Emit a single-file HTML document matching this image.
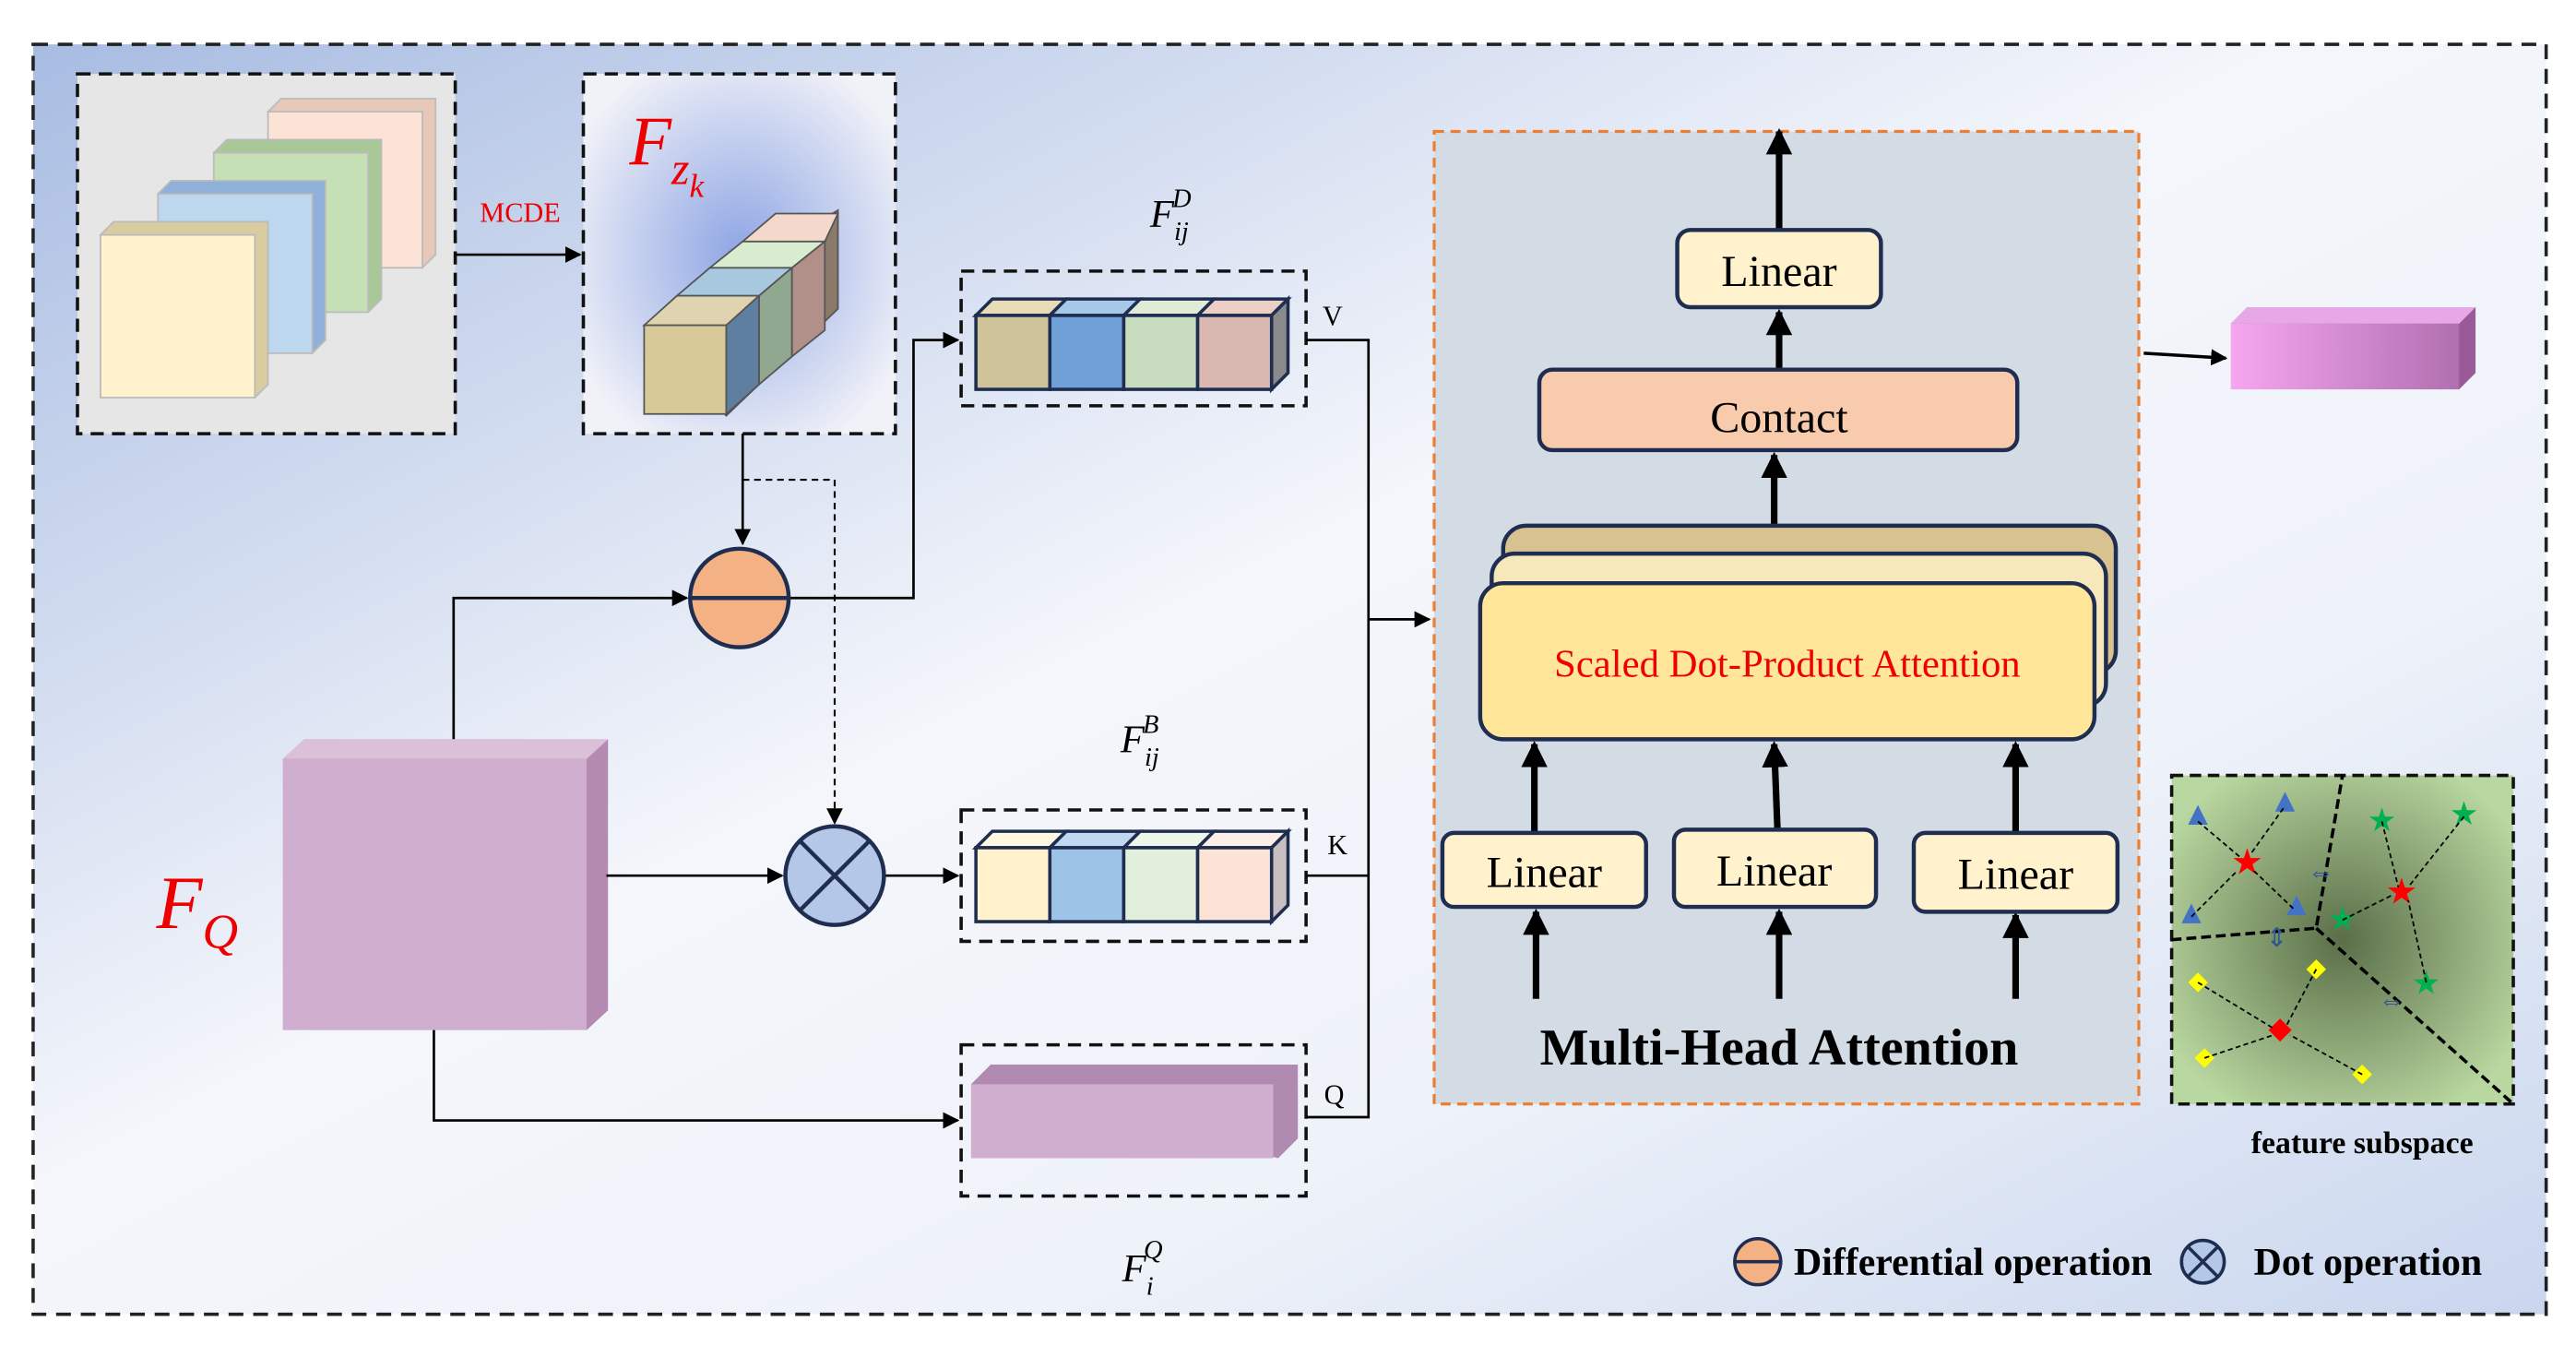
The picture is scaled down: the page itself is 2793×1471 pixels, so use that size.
<!DOCTYPE html>
<html><head><meta charset="utf-8"><style>
html,body{margin:0;padding:0;background:#fff;}
svg{display:block;}
text{font-family:"Liberation Serif",serif;}
</style></head><body>
<svg width="2793" height="1471" viewBox="0 0 1568 826" xmlns="http://www.w3.org/2000/svg">
<defs>
<linearGradient id="bg" x1="0" y1="0" x2="1" y2="1">
<stop offset="0" stop-color="#a8bce2"/><stop offset="0.45" stop-color="#f4f6fb"/><stop offset="0.7" stop-color="#eef2f9"/><stop offset="1" stop-color="#c9d6ee"/>
</linearGradient>
<radialGradient id="bz" cx="0.5" cy="0.5" r="0.6"><stop offset="0" stop-color="#8fa6e4"/><stop offset="1" stop-color="#f1f2f8"/></radialGradient>
<radialGradient id="fs" cx="0.5" cy="0.5" r="0.6"><stop offset="0" stop-color="#5a6e48"/><stop offset="1" stop-color="#b9d7a0"/></radialGradient>
<linearGradient id="pk" x1="0" x2="1"><stop offset="0" stop-color="#f6a6f0"/><stop offset="1" stop-color="#b070b0"/></linearGradient>
<marker id="ar" markerWidth="10" markerHeight="10" refX="9" refY="5" orient="auto" markerUnits="userSpaceOnUse"><path d="M0,0 L10,5 L0,10 Z" fill="#000"/></marker>
<marker id="ab" markerWidth="16" markerHeight="16" refX="14" refY="8" orient="auto" markerUnits="userSpaceOnUse"><path d="M0,0 L16,8 L0,16 Z" fill="#000"/></marker>
</defs>
<rect x="20" y="27" width="1530" height="773" fill="url(#bg)" stroke="#222" stroke-width="2" stroke-dasharray="9,6"/>
<!-- box1 -->
<rect x="47" y="45" width="230" height="219" fill="#e6e6e6" stroke="#111" stroke-width="2" stroke-dasharray="8,5"/>
<g stroke="#bbb" stroke-width="1">
<path d="M163,68 l8,-8 h94 v95 l-8,8z" fill="#e8c8b8"/><rect x="163" y="68" width="94" height="95" fill="#fbe3d6"/>
<path d="M130,93 l8,-8 h94 v97 l-8,8z" fill="#a8c898"/><rect x="130" y="93" width="94" height="97" fill="#c5e0b4"/>
<path d="M96,118 l8,-8 h94 v97 l-8,8z" fill="#8fb0d8"/><rect x="96" y="118" width="94" height="97" fill="#bdd7ee"/>
<path d="M61,143 l8,-8 h94 v99 l-8,8z" fill="#d8cca0"/><rect x="61" y="143" width="94" height="99" fill="#fff2cc"/>
</g>
<line x1="277" y1="155" x2="353" y2="155" stroke="#000" stroke-width="1.5" marker-end="url(#ar)"/>
<text x="292" y="135" font-size="17" fill="#e00">MCDE</text>
<!-- box2 -->
<rect x="355" y="45" width="190" height="219" fill="url(#bz)" stroke="#111" stroke-width="2" stroke-dasharray="8,5"/>
<text x="383" y="100" font-size="42" fill="#e00" font-style="italic">F<tspan font-size="28" dy="12">z</tspan><tspan font-size="20" dy="8">k</tspan></text>
<g stroke="#555" stroke-width="1">
<path d="M392,198 l118,-70 v60 l-68,65z" fill="#8a7a6a"/>
<path d="M392,198 l20,-18 h50 l-20,18z" fill="#e0d4b0"/>
<rect x="392" y="198" width="50" height="54" fill="#d8ca98"/>
<path d="M442,198 l20,-18 v54 l-20,18z" fill="#5f7fa0"/>
<path d="M412,180 l20,-17 h50 l-20,17z" fill="#a8c8e0"/>
<path d="M462,180 l20,-17 v54 l-20,17z" fill="#90a890"/>
<path d="M432,163 l20,-16 h50 l-20,16z" fill="#d8ecd0"/>
<path d="M482,163 l20,-16 v54 l-20,16z" fill="#b09088"/>
<path d="M452,147 l20,-17 h38 l-8,17z" fill="#f4d8cc"/>
</g>
<!-- connectors -->
<line x1="452" y1="264" x2="452" y2="331" stroke="#000" stroke-width="1.5" marker-end="url(#ar)"/>
<polyline points="452,292 508,292 508,501" fill="none" stroke="#000" stroke-width="1.2" stroke-dasharray="4,3" marker-end="url(#ar)"/>
<polyline points="276,450 276,364 418,364" fill="none" stroke="#000" stroke-width="1.5" marker-end="url(#ar)"/>
<polyline points="480,364 556,364 556,207 583,207" fill="none" stroke="#000" stroke-width="1.5" marker-end="url(#ar)"/>
<circle cx="450" cy="364" r="30" fill="#f4b183" stroke="#1f2d50" stroke-width="2.5"/>
<line x1="420" y1="364" x2="480" y2="364" stroke="#1f2d50" stroke-width="2.5"/>
<!-- FQ cube -->
<path d="M172,462 l13,-12 h185 v165 l-13,12z" fill="#b48ab0"/>
<path d="M172,462 l13,-12 h185 l-13,12z" fill="#dcc0d8"/>
<rect x="172" y="462" width="185" height="165" fill="#d0aed0"/>
<text x="95" y="565" font-size="46" fill="#e00" font-style="italic">F<tspan font-size="30" dy="12">Q</tspan></text>
<line x1="369" y1="533" x2="476" y2="533" stroke="#000" stroke-width="1.5" marker-end="url(#ar)"/>
<line x1="538" y1="533" x2="583" y2="533" stroke="#000" stroke-width="1.5" marker-end="url(#ar)"/>
<circle cx="508" cy="533" r="30" fill="#b4c7e7" stroke="#1f2d50" stroke-width="2.5"/>
<line x1="487" y1="512" x2="529" y2="554" stroke="#1f2d50" stroke-width="2.5"/><line x1="529" y1="512" x2="487" y2="554" stroke="#1f2d50" stroke-width="2.5"/>
<polyline points="264,627 264,682 583,682" fill="none" stroke="#000" stroke-width="1.5" marker-end="url(#ar)"/>
<!-- V box -->
<rect x="585" y="165" width="210" height="82" fill="none" stroke="#111" stroke-width="2" stroke-dasharray="8,5"/>
<g stroke="#1f2d50" stroke-width="2">
<path d="M594,192 l10,-10 h45 l-10,10z" fill="#e8dcb8"/><path d="M639,192 l10,-10 h45 l-10,10z" fill="#a8c8e8"/>
<path d="M684,192 l10,-10 h45 l-10,10z" fill="#e0ecd8"/><path d="M729,192 l10,-10 h45 l-10,10z" fill="#ecd0c8"/>
<path d="M774,192 l10,-10 v45 l-10,10z" fill="#8a8a8a"/>
<rect x="594" y="192" width="45" height="45" fill="#cfc39a"/><rect x="639" y="192" width="45" height="45" fill="#6fa0d8"/>
<rect x="684" y="192" width="45" height="45" fill="#c8dcc0"/><rect x="729" y="192" width="45" height="45" fill="#d8b8b0"/>
</g>
<text x="700" y="138" font-size="24" font-style="italic">F<tspan font-size="16" dy="8">ij</tspan><tspan font-size="16" dx="-10" dy="-20">D</tspan></text>
<text x="805" y="198" font-size="17">V</text>
<!-- K box -->
<rect x="585" y="493" width="210" height="80" fill="none" stroke="#111" stroke-width="2" stroke-dasharray="8,5"/>
<g stroke="#1f2d50" stroke-width="2">
<path d="M594,516 l10,-10 h45 l-10,10z" fill="#fff8e0"/><path d="M639,516 l10,-10 h45 l-10,10z" fill="#c0d8f0"/>
<path d="M684,516 l10,-10 h45 l-10,10z" fill="#eef6ea"/><path d="M729,516 l10,-10 h45 l-10,10z" fill="#fdeee6"/>
<path d="M774,516 l10,-10 v45 l-10,10z" fill="#c8c0c0"/>
<rect x="594" y="516" width="45" height="45" fill="#fff2cc"/><rect x="639" y="516" width="45" height="45" fill="#9dc3e6"/>
<rect x="684" y="516" width="45" height="45" fill="#e2efda"/><rect x="729" y="516" width="45" height="45" fill="#fbe3d6"/>
</g>
<text x="682" y="458" font-size="24" font-style="italic">F<tspan font-size="16" dy="8">ij</tspan><tspan font-size="16" dx="-10" dy="-20">B</tspan></text>
<text x="808" y="520" font-size="17">K</text>
<!-- Q box -->
<rect x="585" y="636" width="210" height="92" fill="none" stroke="#111" stroke-width="2" stroke-dasharray="8,5"/>
<path d="M591,660 l12,-12 h187 v45 l-12,12z" fill="#b08ab0"/>
<rect x="591" y="660" width="184" height="45" fill="#d0aed0"/>
<text x="683" y="780" font-size="24" font-style="italic">F<tspan font-size="16" dy="8">i</tspan><tspan font-size="16" dx="-6" dy="-22">Q</tspan></text>
<text x="806" y="672" font-size="17">Q</text>
<!-- right connectors -->
<polyline points="795,207 833,207 833,680 795,680" fill="none" stroke="#000" stroke-width="1.5"/>
<line x1="795" y1="533" x2="833" y2="533" stroke="#000" stroke-width="1.5"/>
<line x1="833" y1="377" x2="870" y2="377" stroke="#000" stroke-width="1.5" marker-end="url(#ar)"/>
<!-- MHA -->
<rect x="873" y="80" width="429" height="592" fill="#d3dbe5" stroke="#ed7d31" stroke-width="1.8" stroke-dasharray="6,4"/>
<line x1="1083" y1="140" x2="1083" y2="80" stroke="#000" stroke-width="4" marker-end="url(#ab)"/>
<rect x="1021" y="140" width="124" height="47" rx="8" fill="#fff2cc" stroke="#1f2d50" stroke-width="2.5"/>
<text x="1083" y="174" font-size="27" text-anchor="middle">Linear</text>
<line x1="1083" y1="225" x2="1083" y2="190" stroke="#000" stroke-width="4" marker-end="url(#ab)"/>
<rect x="937" y="225" width="291" height="49" rx="8" fill="#f8cbad" stroke="#1f2d50" stroke-width="2.5"/>
<text x="1083" y="263" font-size="27" text-anchor="middle">Contact</text>
<line x1="1080" y1="320" x2="1080" y2="277" stroke="#000" stroke-width="4" marker-end="url(#ab)"/>
<rect x="915" y="320" width="373" height="90" rx="14" fill="#d8c290" stroke="#1f2d50" stroke-width="2.5"/>
<rect x="908" y="337" width="374" height="93" rx="14" fill="#f7e8bc" stroke="#1f2d50" stroke-width="2.5"/>
<rect x="901" y="355" width="374" height="95" rx="14" fill="#ffe699" stroke="#1f2d50" stroke-width="2.5"/>
<text x="1088" y="412" font-size="24" fill="#e00" text-anchor="middle">Scaled Dot-Product Attention</text>
<g stroke="#000" stroke-width="4">
<line x1="934" y1="507" x2="934" y2="453" marker-end="url(#ab)"/>
<line x1="1082" y1="505" x2="1080" y2="453" marker-end="url(#ab)"/>
<line x1="1227" y1="507" x2="1227" y2="453" marker-end="url(#ab)"/>
<line x1="935" y1="608" x2="935" y2="555" marker-end="url(#ab)"/>
<line x1="1083" y1="608" x2="1083" y2="555" marker-end="url(#ab)"/>
<line x1="1227" y1="608" x2="1227" y2="557" marker-end="url(#ab)"/>
</g>
<g fill="#fff2cc" stroke="#1f2d50" stroke-width="2.5">
<rect x="878" y="507" width="124" height="45" rx="7"/><rect x="1019" y="505" width="123" height="47" rx="7"/><rect x="1165" y="507" width="124" height="48" rx="7"/>
</g>
<g font-size="27" text-anchor="middle"><text x="940" y="540">Linear</text><text x="1080" y="539">Linear</text><text x="1227" y="541">Linear</text></g>
<text x="1083" y="648" font-size="31.5" font-weight="bold" text-anchor="middle">Multi-Head Attention</text>
<!-- output -->
<line x1="1305" y1="215" x2="1355" y2="218" stroke="#000" stroke-width="2" marker-end="url(#ar)"/>
<path d="M1358,197 l10,-10 h139 v40 l-10,10z" fill="#9a5a9a"/>
<path d="M1358,197 l10,-10 h139 l-10,10z" fill="#e8a8e8"/>
<rect x="1358" y="197" width="139" height="40" fill="url(#pk)"/>
<!-- feature subspace -->
<rect x="1322" y="472" width="208" height="200" fill="url(#fs)" stroke="#111" stroke-width="2" stroke-dasharray="7,4"/>
<polyline points="1322,572 1410,565 1426,472" fill="none" stroke="#000" stroke-width="2" stroke-dasharray="6,3"/>
<polyline points="1410,565 1530,672" fill="none" stroke="#000" stroke-width="2" stroke-dasharray="6,3"/>
<g fill="#4472c4"><path d="M1332,502 l6,-12 6,12z"/><path d="M1385,494 l6,-12 6,12z"/><path d="M1328,562 l6,-12 6,12z"/><path d="M1392,557 l6,-12 6,12z"/></g>
<g fill="#00b050" font-size="20" text-anchor="middle"><text x="1450" y="506">★</text><text x="1500" y="502">★</text><text x="1426" y="566">★</text><text x="1477" y="605">★</text></g>
<g fill="#ffff00"><path d="M1338,592 l6,6 -6,6 -6,-6z"/><path d="M1410,584 l6,6 -6,6 -6,-6z"/><path d="M1342,638 l6,6 -6,6 -6,-6z"/><path d="M1438,648 l6,6 -6,6 -6,-6z"/></g>
<g fill="#f00" font-size="22" text-anchor="middle"><text x="1368" y="532">★</text><text x="1462" y="550">★</text></g>
<path d="M1388,620 l7,7 -7,7 -7,-7z" fill="#f00"/>
<g stroke="#000" stroke-width="1" stroke-dasharray="3,2" fill="none">
<line x1="1338" y1="500" x2="1364" y2="522"/><line x1="1390" y1="492" x2="1370" y2="520"/><line x1="1334" y1="558" x2="1362" y2="530"/><line x1="1396" y1="553" x2="1372" y2="530"/>
<line x1="1450" y1="500" x2="1460" y2="540"/><line x1="1500" y1="497" x2="1466" y2="540"/><line x1="1426" y1="560" x2="1456" y2="545"/><line x1="1477" y1="598" x2="1466" y2="548"/>
<line x1="1338" y1="598" x2="1384" y2="626"/><line x1="1410" y1="590" x2="1392" y2="624"/><line x1="1342" y1="644" x2="1384" y2="630"/><line x1="1438" y1="654" x2="1394" y2="630"/>
</g>
<g fill="#2f5597" font-size="16" text-anchor="middle"><text x="1413" y="536">⇔</text><text x="1386" y="576">⇕</text><text x="1456" y="614">⇔</text></g>
<text x="1438" y="702" font-size="19" font-weight="bold" text-anchor="middle">feature subspace</text>
<!-- legend -->
<circle cx="1070" cy="768" r="14" fill="#f4b183" stroke="#1f2d50" stroke-width="2"/>
<line x1="1056" y1="768" x2="1084" y2="768" stroke="#1f2d50" stroke-width="2"/>
<text x="1092" y="776" font-size="23.5" font-weight="bold">Differential operation</text>
<circle cx="1341" cy="768" r="13" fill="#b4c7e7" stroke="#1f2d50" stroke-width="2"/>
<line x1="1332" y1="759" x2="1350" y2="777" stroke="#1f2d50" stroke-width="2"/><line x1="1350" y1="759" x2="1332" y2="777" stroke="#1f2d50" stroke-width="2"/>
<text x="1372" y="776" font-size="23.5" font-weight="bold">Dot operation</text>
</svg>
</body></html>
